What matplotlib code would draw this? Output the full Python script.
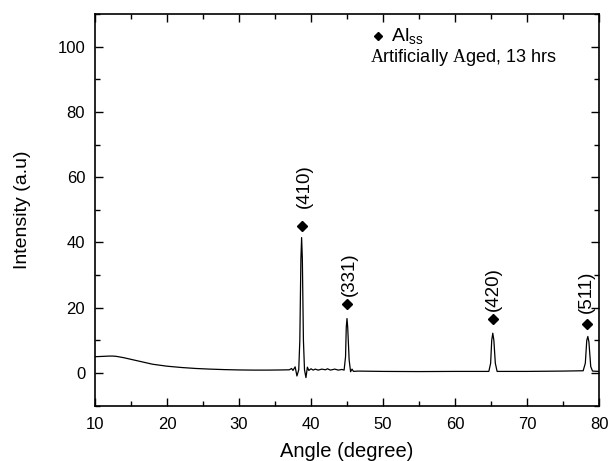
import matplotlib
matplotlib.use("Agg")
import matplotlib.pyplot as plt
from matplotlib.ticker import MultipleLocator

plt.rcParams['font.family'] = ['Liberation Sans', 'DejaVu Sans']
plt.rcParams['mathtext.fontset'] = 'custom'
plt.rcParams['mathtext.rm'] = 'Liberation Serif'
plt.rcParams['mathtext.sf'] = 'Liberation Sans'
plt.rcParams['mathtext.it'] = 'Liberation Sans:italic'

angle = [10, 11, 12, 12.5, 13, 14, 15, 16, 17, 18, 19, 20, 22, 24, 26, 28, 30, 32, 34, 36,
         37, 37.3, 37.5, 37.8, 38.05, 38.3, 38.45, 38.6, 38.7, 38.8, 38.95, 39.1, 39.3, 39.5,
         39.7, 40, 40.3, 40.6, 41, 41.5, 42, 42.3, 42.7, 43.3, 43.8, 44.3, 44.6,
         44.8, 44.9, 45.0, 45.1, 45.3, 45.5, 45.7, 45.9, 46.5, 50, 55, 60, 64.7,
         64.95, 65.1, 65.25, 65.4, 65.6, 65.85, 70, 75, 77.8,
         78.1, 78.3, 78.45, 78.6, 78.85, 79.1, 80]
intensity = [5.0, 5.1, 5.2, 5.2, 5.1, 4.7, 4.2, 3.7, 3.2, 2.7, 2.4, 2.1, 1.7, 1.4, 1.2, 1.05, 0.95, 0.9, 0.9, 0.95,
             1.0, 1.4, 0.8, 1.9, -0.9, 1.0, 10, 35, 41.5, 35, 10, 1.0, -1.4, 1.8,
             0.8, 1.3, 0.9, 1.2, 0.9, 1.2, 1.0, 1.3, 0.9, 1.2, 0.9, 1.1, 0.9,
             5, 14, 16.7, 14, 4, 0.4, 1.2, 0.5, 0.6, 0.5, 0.45, 0.5, 0.5,
             3, 10, 12.2, 10, 3, 0.5, 0.5, 0.6, 0.7,
             3, 10, 11.2, 9.5, 2, 0.6, 0.5]

marker_x = [38.7, 45.0, 65.3, 78.4]
marker_y = [45.2, 21.0, 16.7, 15.0]
peak_labels = ["(410)", "(331)", "(420)", "(511)"]
label_x = [39.1, 45.4, 65.3, 78.2]
label_y = [50.5, 23.5, 19.0, 18.5]

fig = plt.figure(figsize=(6.08, 4.61), dpi=100)
ax = fig.add_axes([0.1562, 0.120, 0.829, 0.8496])
ax.plot(angle, intensity, color='black', lw=0.9)
ax.plot(marker_x, marker_y, linestyle='none', marker='D', markersize=5, color='black')
for lx, ly, t in zip(label_x, label_y, peak_labels):
    ax.text(lx, ly, t, rotation=90, ha='center', va='bottom', fontsize=13.5)

ax.plot([49.3], [103.4], linestyle='none', marker='D', markersize=4.5, color='black')
ax.text(51.1, 103.4, r"Al$_{\mathsf{ss}}$", ha='left', va='center', fontsize=14)
ax.text(48.2, 96.6, r"$\mathrm{A}$rtificially $\mathrm{A}$ged, 13 hrs", ha='left', va='center', fontsize=13)

ax.set_xlim(10, 80)
ax.set_ylim(-10, 110)
ax.xaxis.set_major_locator(MultipleLocator(10))
ax.xaxis.set_minor_locator(MultipleLocator(5))
ax.set_yticks([0, 20, 40, 60, 80, 100])
ax.yaxis.set_minor_locator(MultipleLocator(10))
ax.tick_params(which='both', direction='in', top=True, right=True, labelsize=12)
ax.tick_params(axis='x', which='major', pad=8)
ax.tick_params(axis='y', which='major', pad=7)
ax.tick_params(which='major', length=6, width=1)
ax.tick_params(which='minor', length=3.5, width=1)
for s in ax.spines.values():
    s.set_linewidth(1.2)
ax.set_xlabel("Angle (degree)", fontsize=14.5, labelpad=7)
ax.set_ylabel("Intensity (a.u)", fontsize=14, labelpad=19)

fig.savefig("out.png", dpi=100)
